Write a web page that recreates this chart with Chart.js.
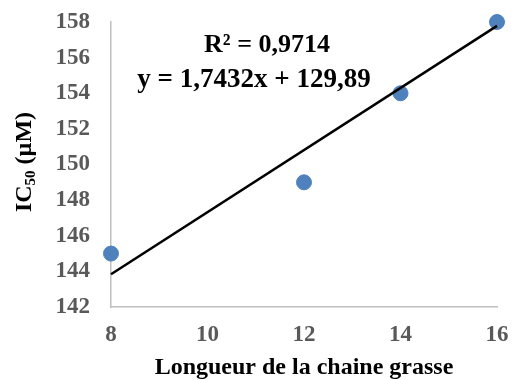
<!DOCTYPE html>
<html>
<head>
<meta charset="utf-8">
<script src="https://cdn.jsdelivr.net/npm/chart.js@4/dist/chart.umd.min.js"></script>
<style>
  body { margin: 0; background: #fff; }
  #wrap { width: 512px; height: 380px; }
</style>
</head>
<body>
<div id="wrap"><canvas id="miGrafica"></canvas></div>
<script>
// datos
const longueur = [8, 12, 14, 16];
const ic50 = [145, 149, 154, 158];
// droite de tendance (extremos)
const tendX = [8, 16];
const tendY = [143.84, 157.78];
const xTicks = [8, 10, 12, 14, 16];
const yTicks = [142, 144, 146, 148, 150, 152, 154, 156, 158];
const txtR2 = "R² = 0,9714";
const txtEq = "y = 1,7432x + 129,89";

const serif = "'Liberation Serif', 'Times New Roman', serif";

// titulo eje Y con subindice + ecuacion
const extras = {
    id: "extras",
    afterDraw(chart) {
        const ctx = chart.ctx;
        ctx.save();
        ctx.fillStyle = "#000";
        ctx.font = "bold 26px " + serif;
        ctx.textAlign = "center";
        ctx.textBaseline = "middle";
        ctx.fillText(txtR2, 267, 45);
        ctx.font = "bold 27px " + serif;
        ctx.fillText(txtEq, 254, 80);

        // IC50 (µM)
        ctx.translate(23, 162);
        ctx.rotate(-Math.PI / 2);
        const big = "bold 24px " + serif;
        const small = "bold 15px " + serif;
        ctx.font = big;
        const w1 = ctx.measureText("IC").width;
        const w3 = ctx.measureText(" (µM)").width;
        ctx.font = small;
        const w2 = ctx.measureText("50").width;
        let x = -(w1 + w2 + w3) / 2;
        ctx.textAlign = "left";
        ctx.textBaseline = "alphabetic";
        ctx.font = big;
        ctx.fillText("IC", x, 8);
        x += w1;
        ctx.font = small;
        ctx.fillText("50", x, 12);
        x += w2;
        ctx.font = big;
        ctx.fillText(" (µM)", x, 8);
        ctx.restore();
    }
};

const ctx = document.getElementById("miGrafica").getContext("2d");
new Chart(ctx, {
    type: "scatter",
    data: {
        datasets: [
            {
                label: "IC50",
                data: longueur.map((v, i) => ({ x: v, y: ic50[i] })),
                backgroundColor: "#4f81bd",
                borderColor: "#4f81bd",
                pointRadius: 7.5,
                pointHoverRadius: 7.5,
                clip: false,
                order: 2
            },
            {
                label: "Linéaire",
                type: "line",
                data: tendX.map((v, i) => ({ x: v, y: tendY[i] })),
                borderColor: "#000",
                borderWidth: 2.5,
                pointRadius: 0,
                fill: false,
                clip: false,
                order: 1
            }
        ]
    },
    options: {
        responsive: true,
        maintainAspectRatio: false,
        animation: false,
        layout: { padding: { left: 0, right: 15, top: 22, bottom: 0 } },
        plugins: {
            legend: { display: false },
            tooltip: { enabled: false }
        },
        scales: {
            x: {
                type: "linear",
                min: 8,
                max: 16,
                afterBuildTicks: (s) => { s.ticks = xTicks.map(v => ({ value: v })); },
                afterFit: (s) => {
                    s.height = 73;
                    s.paddingLeft = 0; s.paddingRight = 0;
                    s.paddingTop = 0; s.paddingBottom = 0;
                },
                grid: { display: false, drawTicks: false },
                border: { display: true, color: "#bfbfbf", width: 1.5 },
                ticks: {
                    padding: 14,
                    color: "#595959",
                    font: { family: serif, size: 23, weight: "bold" },
                    maxRotation: 0
                },
                title: {
                    display: true,
                    text: "Longueur de la chaine grasse",
                    color: "#000",
                    font: { family: serif, size: 24, weight: "bold" },
                    padding: { top: 6, bottom: -2 }
                }
            },
            y: {
                min: 142,
                max: 158,
                afterBuildTicks: (s) => { s.ticks = yTicks.map(v => ({ value: v })); },
                afterFit: (s) => {
                    s.width = 111;
                    s.paddingLeft = 0; s.paddingRight = 0;
                    s.paddingTop = 0; s.paddingBottom = 0;
                },
                grid: { display: false, drawTicks: false },
                border: { display: true, color: "#bfbfbf", width: 1.5 },
                ticks: {
                    padding: 21,
                    color: "#595959",
                    font: { family: serif, size: 23, weight: "bold" }
                }
            }
        }
    },
    plugins: [extras]
});
</script>
</body>
</html>
